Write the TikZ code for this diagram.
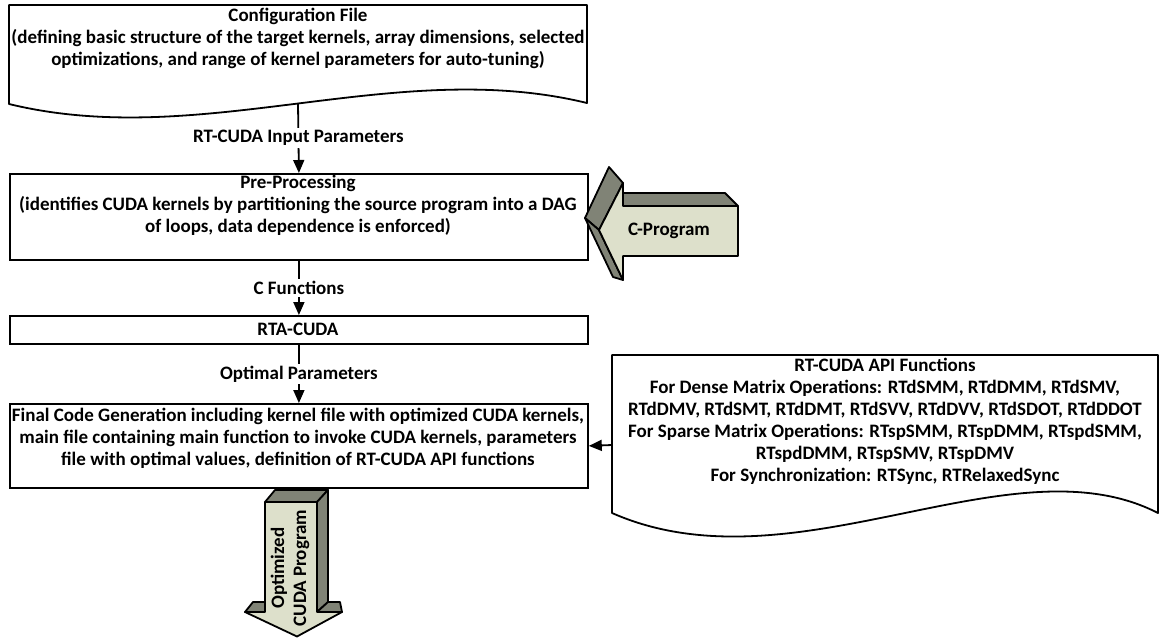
\documentclass[tikz,border=0pt]{standalone}
\usepackage{fontspec}
\setmainfont{Carlito}
\usetikzlibrary{arrows.meta}
\definecolor{darkface}{RGB}{128,131,118}
\definecolor{lightface}{RGB}{221,224,203}
\begin{document}
\begin{tikzpicture}[x=1pt,y=-1pt,
  every node/.style={font=\bfseries\fontsize{19}{22}\selectfont},
  box/.style={draw, line width=1.8pt, anchor=north west, inner sep=0pt},
  txt/.style={align=center, inner sep=0pt},
  conn/.style={line width=1.8pt, -{Triangle[length=13pt,width=11pt]}},
  lbl/.style={fill=white, inner sep=2pt},
  face/.style={draw, line width=1.8pt, line join=round}]
\useasboundingbox (0,0) rectangle (1160,638);

% Configuration file (document shape)
\draw[line width=1.8pt, line join=round] (9,104) -- (9,5) -- (587,5) -- (587,103)
  .. controls (394,56) and (202,151) .. (9,104) -- cycle;
\node[txt] (cfg) at (298,38) {Configuration File\\(defining basic structure of the target kernels, array dimensions, selected\\optimizations, and range of kernel parameters for auto-tuning)};
\coordinate (cfgb) at (298,103);

% Pre-processing
\node[box, minimum width=578pt, minimum height=86pt] (pre) at (9,173) {};
\node[txt] (pretxt) at (298,205.5) {Pre-Processing\\(identifies CUDA kernels by partitioning the source program into a DAG\\of loops, data dependence is enforced)};

% RTA-CUDA
\node[box, minimum width=578pt, minimum height=28pt] (rta) at (9,315) {};
\node[txt] (rtatxt) at (298,329) {RTA-CUDA};

% Final code generation
\node[box, minimum width=578pt, minimum height=84pt] (final) at (9,403) {};
\node[txt] (finaltxt) at (298,438.5) {Final Code Generation including kernel file with optimized CUDA kernels,\\main file containing main function to invoke CUDA kernels, parameters\\file with optimal values, definition of RT-CUDA API functions};

% API functions (document shape)
\draw[line width=1.8pt, line join=round] (612,513) -- (612,355) -- (1158,355) -- (1158,513)
  .. controls (1010,437) and (794,593) .. (612,513) -- cycle;
\node[txt] (apitxt) at (885,421) {RT-CUDA API Functions\\For Dense Matrix Operations: RTdSMM, RTdDMM, RTdSMV,\\RTdDMV, RTdSMT, RTdDMT, RTdSVV, RTdDVV, RTdSDOT, RTdDDOT\\For Sparse Matrix Operations: RTspSMM, RTspDMM, RTspdSMM,\\RTspdDMM, RTspSMV, RTspDMV\\For Synchronization: RTSync, RTRelaxedSync};
\coordinate (apil) at (612,445);

% connectors
\draw[conn] (cfgb) -- node[lbl] {RT-CUDA Input Parameters} (pre.north);
\draw[conn] (pre.south) -- node[lbl] {C Functions} (rta.north);
\draw[conn] (rta.south) -- node[lbl] {Optimal Parameters} (final.north);
\draw[conn] (apil) -- (final.east);

% C-Program 3D arrow
\filldraw[face, fill=darkface] (623,206) -- (623,193) -- (725,193) -- (738,206) -- cycle;
\filldraw[face, fill=darkface] (609,167) -- (623,183) -- (599,230) -- (585,218) -- cycle;
\filldraw[face, fill=darkface] (585,218) -- (599,230) -- (623,280) -- (613,277) -- cycle;
\filldraw[face, fill=lightface] (599,230) -- (623,183) -- (623,206) -- (738,206) -- (738,256) -- (623,256) -- (623,280) -- cycle;
\node[inner sep=0pt] (cprog) at (669,231) {C-Program};

% Optimized CUDA Program 3D arrow
\filldraw[face, fill=darkface] (265,502) -- (275,490) -- (328,490) -- (317,502) -- cycle;
\filldraw[face, fill=darkface] (317,502) -- (328,490) -- (328,602) -- (317,612) -- cycle;
\filldraw[face, fill=darkface] (317,612) -- (328,602) -- (340,602) -- (342,612) -- cycle;
\filldraw[face, fill=darkface] (245,612) -- (253,602) -- (265,602) -- (265,612) -- cycle;
\filldraw[face, fill=lightface] (265,502) -- (317,502) -- (317,612) -- (342,612) -- (297,636.5) -- (245,612) -- (265,612) -- cycle;
\node[txt, rotate=90] (optprog) at (290,568) {Optimized\\CUDA Program};
\end{tikzpicture}
\end{document}
